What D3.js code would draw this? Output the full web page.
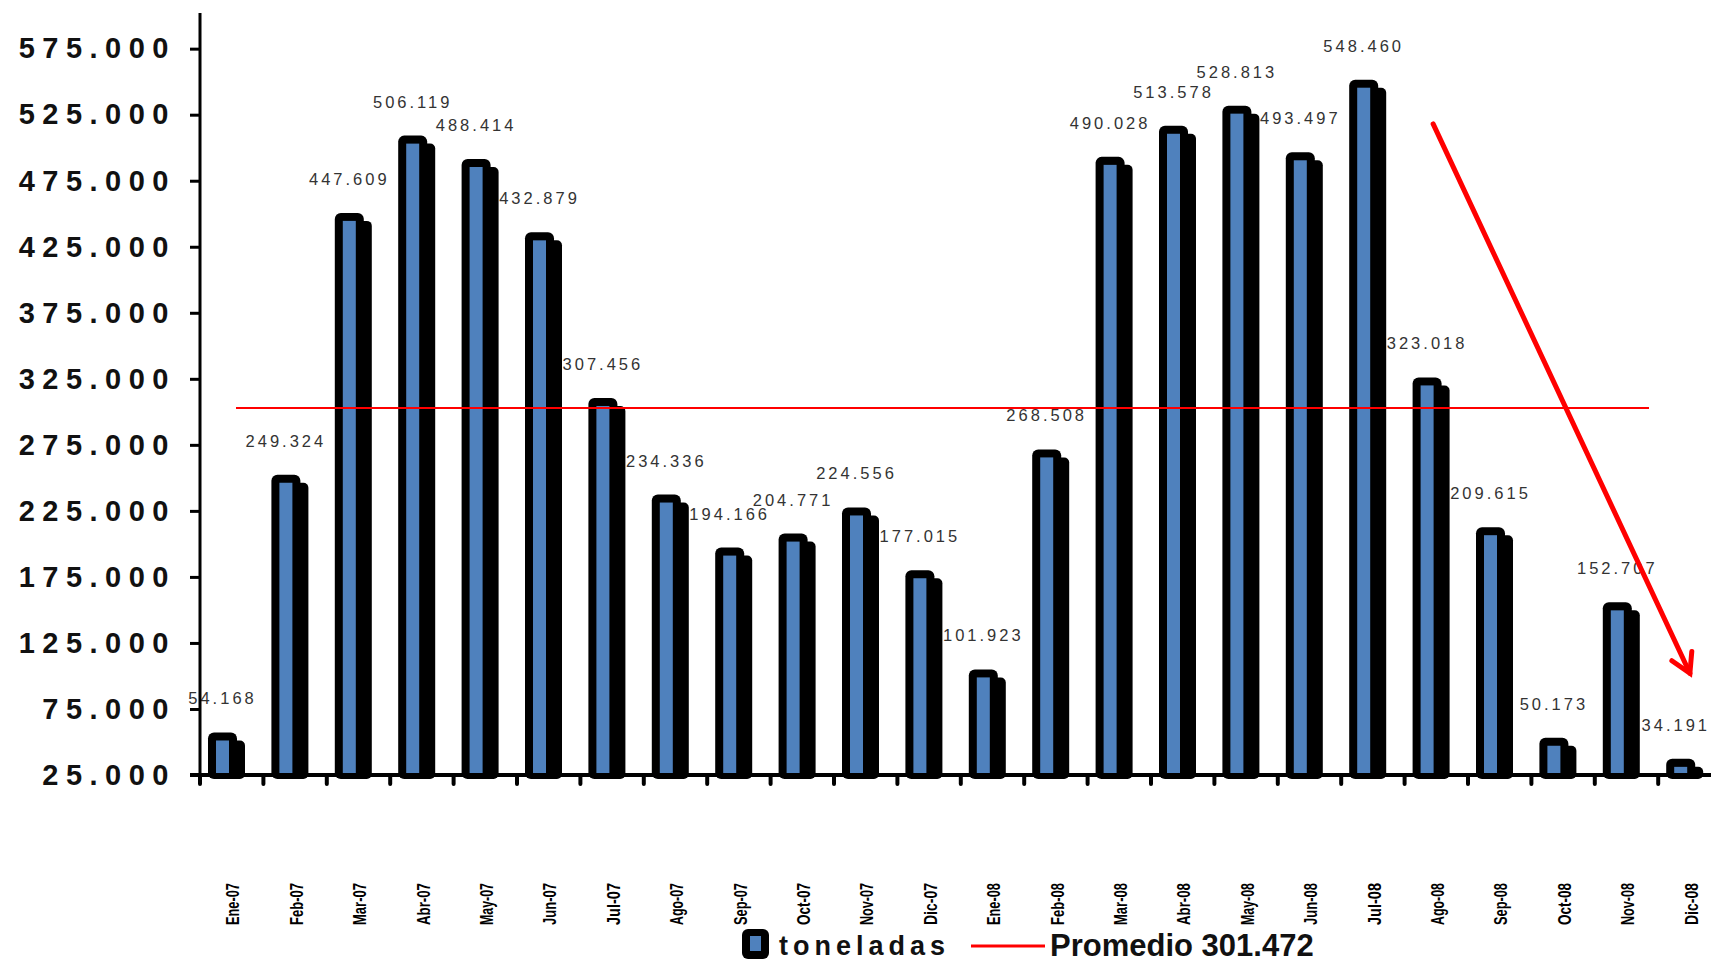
<!DOCTYPE html>
<html>
<head>
<meta charset="utf-8">
<script src="https://cdn.jsdelivr.net/npm/d3@7"></script>
<style>
  html, body { margin: 0; padding: 0; background: #fff; }
  svg { display: block; font-family: "Liberation Sans", Arial, sans-serif; }
</style>
</head>
<body>
<svg id="chart" width="1711" height="964"></svg>
<script>
// ---- data ----
const categories = ["Ene-07","Feb-07","Mar-07","Abr-07","May-07","Jun-07","Jul-07","Ago-07","Sep-07","Oct-07","Nov-07","Dic-07",
                    "Ene-08","Feb-08","Mar-08","Abr-08","May-08","Jun-08","Jul-08","Ago-08","Sep-08","Oct-08","Nov-08","Dic-08"];
const toneladas = [54168, 249324, 447609, 506119, 488414, 432879, 307456, 234336, 194166, 204771, 224556, 177015,
                   101923, 268508, 490028, 513578, 528813, 493497, 548460, 323018, 209615, 50173, 152707, 34191];
const promedio = 301472;
const yTicks = [25000, 75000, 125000, 175000, 225000, 275000, 325000, 375000, 425000, 475000, 525000, 575000];
const seriesName = "toneladas";
const avgName = "Promedio 301.472";
// trend arrow annotation (category index, value)
const arrowFrom = [19.45, 518000];
const arrowTo = [23.5, 102000];

// ---- setup ----
const W = 1711;
const svg = d3.select("#chart");
const loc = d3.formatLocale({decimal: ",", thousands: ".", grouping: [3], currency: ["", ""]});
const fmt = loc.format(",d");

const x0 = 200, bw = 63.4, baseY = 775;
const x = d3.scaleBand().domain(categories).range([x0, x0 + bw * categories.length]).padding(0);
const xi = d3.scaleLinear().domain([0, categories.length]).range([x0, x0 + bw * categories.length]);
const y = d3.scaleLinear().domain([25000, 602000]).range([baseY, 13]);

const barOff = 8, barW = 29, inset = 8, shadow = 8, out = 4;
const blue = "#4f81bd";

// ---- bars ----
const g = svg.append("g");
const data = categories.map((c, i) => ({c, v: toneladas[i]}));
const barTop = d => Math.min(y(d.v) - out, baseY - 12);

// shadows
g.selectAll("rect.shadow").data(data).join("rect")
  .attr("class", "shadow")
  .attr("x", d => x(d.c) + barOff + shadow)
  .attr("y", d => Math.min(barTop(d) + shadow, baseY - 4))
  .attr("width", barW)
  .attr("height", d => baseY - Math.min(barTop(d) + shadow, baseY - 4) + 4)
  .attr("rx", 5).attr("fill", "#000");

// main black body
g.selectAll("rect.body").data(data).join("rect")
  .attr("class", "body")
  .attr("x", d => x(d.c) + barOff)
  .attr("y", d => barTop(d))
  .attr("width", barW)
  .attr("height", d => baseY - barTop(d) + 4)
  .attr("rx", 6).attr("fill", "#000");

// blue fill
g.selectAll("rect.fill").data(data).join("rect")
  .attr("class", "fill")
  .attr("x", d => x(d.c) + barOff + inset)
  .attr("y", d => barTop(d) + inset)
  .attr("width", barW - 2 * inset)
  .attr("height", d => Math.max(0, baseY - barTop(d) - inset))
  .attr("fill", blue);

// value labels
g.selectAll("text.val").data(data).join("text")
  .attr("class", "val")
  .attr("y", d => barTop(d) - 28)
  .attr("text-anchor", "middle")
  .attr("font-size", 16.5)
  .attr("letter-spacing", 3)
  .attr("fill", "#333")
  .text(d => fmt(d.v))
  .attr("x", function(d) {
    const cx = x(d.c) + barOff + barW / 2;
    const w = this.getComputedTextLength();
    return Math.min(cx, W - w / 2 - 1);
  });

// ---- y axis ----
const yAxis = d3.axisLeft(y).tickValues(yTicks).tickSize(10).tickPadding(14).tickFormat(fmt);
const ya = svg.append("g").attr("transform", `translate(${x0},0)`).call(yAxis);
ya.select(".domain").remove();
ya.selectAll(".tick line").attr("stroke", "#000").attr("stroke-width", 3);
ya.selectAll(".tick text")
  .attr("font-size", 29).attr("font-weight", "bold").attr("letter-spacing", 7.5)
  .attr("fill", "#111").attr("font-family", "'Liberation Sans', Arial, sans-serif");
svg.append("line").attr("x1", x0).attr("x2", x0).attr("y1", y(602000)).attr("y2", baseY + 2)
  .attr("stroke", "#000").attr("stroke-width", 3);

// ---- x axis ----
svg.append("line").attr("x1", 190).attr("x2", W).attr("y1", baseY).attr("y2", baseY)
  .attr("stroke", "#000").attr("stroke-width", 4);
svg.append("g").selectAll("line").data(categories).join("line")
  .attr("x1", d => x(d)).attr("x2", d => x(d))
  .attr("y1", baseY).attr("y2", baseY + 9)
  .attr("stroke", "#000").attr("stroke-width", 4).attr("stroke-linecap", "round");
svg.append("g").selectAll("text").data(categories).join("text")
  .attr("transform", d => `translate(${x(d) + bw / 2 + 1},${904}) rotate(-90)`)
  .attr("text-anchor", "middle")
  .attr("dy", "0.35em")
  .attr("font-size", 19).attr("font-weight", "bold")
  .attr("textLength", 42).attr("lengthAdjust", "spacingAndGlyphs")
  .attr("fill", "#000")
  .text(d => d);

// ---- average line ----
svg.append("line").attr("x1", 236).attr("x2", 1649)
  .attr("y1", y(promedio) - 2).attr("y2", y(promedio) - 2)
  .attr("stroke", "#ff0000").attr("stroke-width", 2);

// ---- trend arrow ----
const ax1 = xi(arrowFrom[0]), ay1 = y(arrowFrom[1]);
const ax2 = xi(arrowTo[0]), ay2 = y(arrowTo[1]);
svg.append("line").attr("x1", ax1).attr("y1", ay1).attr("x2", ax2).attr("y2", ay2)
  .attr("stroke", "#ff0000").attr("stroke-width", 5).attr("stroke-linecap", "round");
const ang = Math.atan2(ay2 - ay1, ax2 - ax1);
const headLen = 22, spread = Math.PI / 6;
const arms = [ang + Math.PI - spread, ang + Math.PI + spread];
svg.append("path")
  .attr("d", `M${ax2 + headLen * Math.cos(arms[0])},${ay2 + headLen * Math.sin(arms[0])} L${ax2},${ay2} L${ax2 + headLen * Math.cos(arms[1])},${ay2 + headLen * Math.sin(arms[1])}`)
  .attr("fill", "none").attr("stroke", "#ff0000").attr("stroke-width", 5)
  .attr("stroke-linecap", "round").attr("stroke-linejoin", "miter");

// ---- legend ----
const lg = svg.append("g");
lg.append("rect").attr("x", 742).attr("y", 929).attr("width", 27).attr("height", 30).attr("rx", 6).attr("fill", "#000");
lg.append("rect").attr("x", 750).attr("y", 936).attr("width", 11).attr("height", 15).attr("fill", blue);
lg.append("text").attr("x", 779).attr("y", 955)
  .attr("font-size", 27).attr("font-weight", "bold").attr("letter-spacing", 5).attr("fill", "#111")
  .text(seriesName);
lg.append("line").attr("x1", 971).attr("x2", 1045).attr("y1", 946).attr("y2", 946)
  .attr("stroke", "#ff0000").attr("stroke-width", 3);
lg.append("text").attr("x", 1050).attr("y", 956)
  .attr("font-size", 31).attr("font-weight", "bold").attr("fill", "#111")
  .text(avgName);
</script>
</body>
</html>
